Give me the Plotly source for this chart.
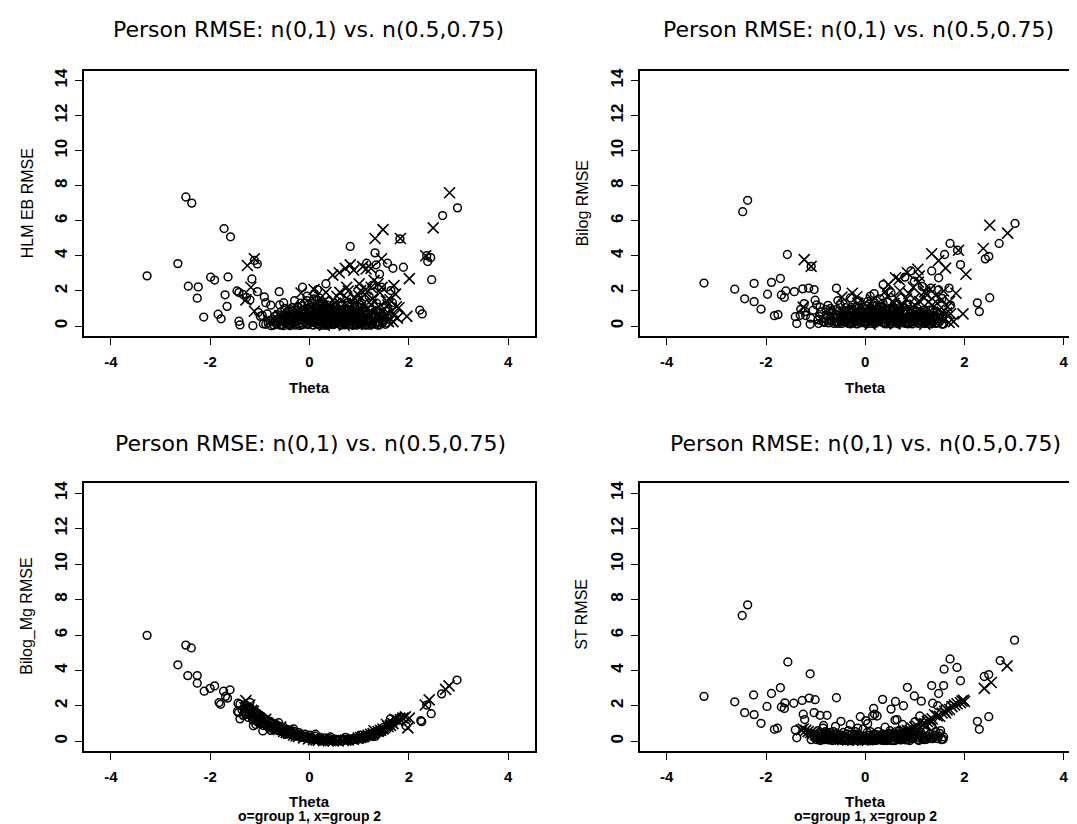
import plotly.graph_objects as go

W, H = 1077, 824

# ---------------- text ----------------
panel_title = "Person RMSE: n(0,1) vs. n(0.5,0.75)"
y_labels = ["HLM EB RMSE", "Bilog RMSE", "Bilog_Mg RMSE", "ST RMSE"]
x_label = "Theta"
caption = "o=group 1, x=group 2"
x_ticks = [-4, -2, 0, 2, 4]
x_tick_labels = ["-4", "-2", "0", "2", "4"]
y_ticks = [0, 2, 4, 6, 8, 10, 12, 14]
y_tick_labels = ["0", "2", "4", "6", "8", "10", "12", "14"]

# ---------------- data: (theta, RMSE) ----------------
# Panel 1: HLM EB RMSE
hlm_group1 = [
    (-3.27, 2.86), (-2.49, 7.36), (-2.37, 7.01), (-2.65, 3.56), (-2.44, 2.27), (-2.26, 1.59),
    (-2.24, 2.23), (-2.13, 0.51), (-1.99, 2.78), (-1.91, 2.62), (-1.84, 0.67), (-1.78, 0.41),
    (-1.72, 5.56), (-1.59, 5.09), (-1.70, 1.78), (-1.66, 1.12), (-1.64, 2.80), (-1.46, 2.00),
    (-1.42, 1.92), (-1.42, 0.27), (-1.40, 0.06), (-1.34, 1.80), (-1.27, 1.63), (-1.20, 1.49),
    (-1.16, 2.68), (-1.14, 0.02), (-1.11, 3.74), (-1.05, 3.54), (-1.05, 1.96), (-1.03, 0.78),
    (-0.99, 0.55), (-0.93, 0.12), (-0.91, 1.66), (-0.88, 1.33), (-0.85, 0.69), (-0.78, 1.19),
    (-0.61, 1.96), (-0.52, 1.33), (-0.50, 1.00), (-0.14, 2.21), (0.16, 2.08), (0.33, 2.41),
    (0.82, 4.54), (1.32, 4.17), (1.57, 3.58), (1.68, 3.29), (1.64, 2.02), (1.89, 3.35),
    (1.82, 4.97), (2.22, 0.90), (2.27, 0.69), (2.36, 4.01), (2.38, 3.68), (2.44, 3.90),
    (2.46, 2.64), (2.68, 6.30), (2.98, 6.74), (1.34, 3.49), (1.41, 2.96), (1.15, 3.58),
    (1.26, 2.31), (1.45, 2.21), (1.67, 1.33), (1.59, 0.84),
    (-0.88, 0.10), (-0.80, 0.32), (-0.72, 0.05), (-0.70, 0.55), (-0.63, 0.22), (-0.58, 0.80),
    (-0.55, 0.08), (-0.48, 0.40), (-0.44, 0.15), (-0.40, 0.95), (-0.36, 0.30), (-0.31, 0.62),
    (-0.28, 0.05), (-0.24, 1.10), (-0.21, 0.42), (-0.17, 0.18), (-0.13, 0.75), (-0.10, 1.30),
    (-0.07, 0.35), (-0.03, 0.08), (0.00, 0.55), (0.03, 1.05), (0.06, 0.25), (0.09, 1.55),
    (0.12, 0.70), (0.15, 0.12), (0.18, 0.95), (0.21, 0.40), (0.24, 1.25), (0.27, 0.05),
    (0.30, 0.60), (0.33, 0.22), (0.36, 0.85), (0.40, 0.45), (0.43, 0.10), (0.47, 0.70),
    (0.50, 0.30), (0.54, 1.10), (0.57, 0.15), (0.61, 0.55), (0.64, 0.90), (0.68, 0.28),
    (0.71, 0.06), (0.75, 0.65), (0.78, 1.35), (0.82, 0.38), (0.86, 0.12), (0.90, 0.80),
    (0.94, 0.50), (0.98, 0.20), (1.02, 1.05), (1.06, 0.35), (1.10, 0.08), (1.14, 0.62),
    (1.18, 0.28), (1.23, 0.90), (1.27, 0.15), (1.32, 0.48), (1.37, 0.06), (1.42, 0.72),
    (1.48, 0.25), (1.53, 0.10), (1.58, 0.45), (-0.95, 0.60), (-0.60, 1.20), (-0.30, 1.45),
    (0.10, 1.85), (0.20, 1.60), (-0.05, 1.70), (0.40, 1.40), (0.60, 1.60), (0.95, 1.50),
    (1.20, 1.70), (1.35, 1.30),
]
hlm_group1_core = [
    (-0.83, 0.18), (-0.77, 0.02), (-0.74, 0.38), (-0.67, 0.12), (-0.61, 0.45), (-0.57, 0.28),
    (-0.52, 0.02), (-0.49, 0.62), (-0.45, 0.24), (-0.41, 0.07), (-0.38, 0.48), (-0.34, 0.85),
    (-0.30, 0.18), (-0.27, 0.35), (-0.23, 0.70), (-0.19, 0.03), (-0.16, 0.52), (-0.12, 0.95),
    (-0.09, 0.22), (-0.06, 0.60), (-0.02, 1.20), (0.01, 0.32), (0.04, 0.78), (0.07, 0.05),
    (0.10, 0.48), (0.13, 1.10), (0.16, 0.28), (0.19, 0.62), (0.22, 0.85), (0.25, 0.18),
    (0.28, 1.05), (0.31, 0.40), (0.34, 0.04), (0.37, 0.58), (0.41, 0.92), (0.44, 0.30),
    (0.48, 0.08), (0.51, 0.52), (0.55, 0.78), (0.58, 0.38), (0.62, 0.18), (0.65, 1.15),
    (0.69, 0.48), (0.72, 0.30), (0.76, 0.85), (0.79, 0.10), (0.83, 0.60), (0.87, 0.35),
    (0.91, 1.10), (0.95, 0.05), (0.99, 0.70), (1.03, 0.45), (1.07, 0.15), (1.11, 0.85),
    (1.16, 0.42), (1.20, 0.05), (1.25, 0.60), (1.29, 0.32), (1.34, 0.85), (1.39, 0.20),
    (1.44, 0.40), (1.50, 0.55), (1.55, 0.18), (-0.05, 1.45), (0.05, 1.30), (0.15, 1.50),
    (0.25, 1.40), (-0.15, 1.15), (0.35, 1.20), (0.50, 1.30), (-0.35, 1.05), (0.70, 0.95),
    (0.85, 1.25), (1.05, 1.30),
    (-0.69, 0.30), (-0.65, 0.65), (-0.59, 0.05), (-0.54, 0.35), (-0.50, 0.18), (-0.46, 0.75),
    (-0.42, 0.55), (-0.39, 0.02), (-0.33, 0.45), (-0.29, 0.90), (-0.25, 0.25), (-0.20, 0.62),
    (-0.18, 1.30), (-0.14, 0.08), (-0.11, 0.48), (-0.08, 0.80), (-0.04, 0.15), (-0.01, 0.95),
    (0.02, 0.42), (0.05, 0.62), (0.08, 0.20), (0.11, 0.88), (0.14, 0.40), (0.17, 1.20),
    (0.20, 0.05), (0.23, 0.55), (0.26, 0.75), (0.29, 0.30), (0.32, 0.95), (0.35, 0.12),
    (0.38, 0.38), (0.42, 0.68), (0.45, 0.18), (0.49, 0.45), (0.52, 0.92), (0.56, 0.25),
    (0.59, 0.65), (0.63, 0.05), (0.66, 0.40), (0.70, 0.75), (0.73, 0.18), (0.77, 0.50),
    (0.80, 0.92), (0.84, 0.25), (0.88, 0.05), (0.92, 0.45), (0.96, 0.30), (1.00, 0.12),
    (1.04, 0.60), (1.08, 0.25), (1.13, 0.05), (1.17, 0.70), (1.21, 0.35), (1.26, 0.10),
    (1.30, 0.55), (1.35, 0.25), (1.40, 0.05), (1.46, 0.60),
    (-0.62, 0.40), (-0.56, 0.62), (-0.51, 0.28), (-0.47, 0.50), (-0.43, 0.85), (-0.37, 0.15),
    (-0.32, 0.70), (-0.26, 0.52), (-0.22, 0.12), (-0.15, 0.35), (-0.11, 0.65), (-0.04, 0.42),
    (0.00, 0.85), (0.06, 0.42), (0.09, 0.70), (0.13, 0.22), (0.18, 0.50), (0.23, 0.32),
    (0.27, 0.88), (0.32, 0.52), (0.36, 0.28), (0.40, 0.78), (0.46, 0.55), (0.50, 0.15),
    (0.53, 0.68), (0.60, 0.28), (0.64, 0.72), (0.67, 0.55), (0.74, 0.40), (0.78, 0.68),
    (0.81, 0.32), (0.86, 0.78), (0.89, 0.20), (0.93, 0.62), (0.97, 0.42), (1.01, 0.85),
    (1.05, 0.22), (1.09, 0.55), (1.15, 0.25), (1.19, 0.48), (1.24, 0.30), (1.28, 0.72),
    (1.33, 0.10), (1.38, 0.45),
]
hlm_group2 = [
    (-1.25, 3.45), (-1.11, 3.84), (-1.18, 2.21), (-1.28, 1.49), (-1.11, 0.84), (-0.17, 1.88),
    (0.09, 2.08), (0.33, 1.92), (0.47, 2.90), (0.60, 3.04), (0.72, 3.29), (0.82, 3.49),
    (0.89, 3.19), (1.07, 3.39), (1.14, 3.25), (1.24, 3.29), (1.32, 4.99), (1.48, 5.50),
    (1.45, 3.84), (1.83, 4.99), (2.01, 2.70), (1.96, 0.55), (1.80, 1.04), (1.68, 0.25),
    (2.34, 4.01), (2.49, 5.60), (2.82, 7.60), (1.73, 1.82), (1.55, 1.43), (1.38, 2.41),
    (1.24, 2.21), (1.03, 2.02), (0.75, 2.21), (0.61, 1.92), (0.96, 1.43), (1.17, 1.04),
    (1.41, 0.65), (1.59, 0.25), (0.61, 0.84), (0.40, 1.23),
    (0.05, 0.30), (0.12, 0.90), (0.20, 0.15), (0.28, 1.40), (0.35, 0.60), (0.42, 1.10),
    (0.48, 0.20), (0.55, 1.70), (0.60, 0.80), (0.66, 0.35), (0.72, 1.30), (0.78, 2.00),
    (0.84, 0.55), (0.90, 1.60), (0.96, 0.10), (1.00, 2.40), (1.05, 0.90), (1.12, 1.80),
    (1.18, 0.40), (1.25, 1.20), (1.30, 2.60), (1.36, 0.70), (1.42, 1.90), (1.50, 1.00),
    (1.56, 0.30), (1.62, 1.50), (1.70, 0.60), (1.75, 1.10), (-0.20, 0.50), (-0.40, 0.20),
    (-0.10, 1.00), (0.30, 0.05), (0.70, 0.05), (1.15, 0.10), (-0.80, 0.30), (-0.60, 0.60),
]
hlm_group2_core = [
    (0.02, 0.70), (0.18, 0.45), (0.25, 0.95), (0.38, 0.25), (0.45, 0.65), (0.52, 1.30),
    (0.58, 0.45), (0.63, 1.10), (0.69, 0.75), (0.75, 1.60), (0.81, 0.20), (0.87, 1.15),
    (0.93, 0.70), (0.99, 1.75), (1.04, 0.40), (1.09, 1.30), (1.14, 2.10), (1.20, 0.75),
    (1.27, 1.55), (1.33, 0.35), (1.40, 1.10), (1.46, 2.20), (1.52, 0.60), (1.58, 1.20),
    (1.65, 0.85), (1.70, 2.30), (1.77, 0.45), (-0.30, 0.80), (-0.50, 0.40), (0.15, 1.35),
]

# Panel 2: Bilog RMSE
bilog_group1 = [
    (-3.25, 2.45), (-2.47, 6.52), (-2.37, 7.17), (-2.63, 2.10), (-2.43, 1.55), (-2.24, 2.43),
    (-2.24, 1.39), (-2.10, 0.96), (-1.97, 1.81), (-1.89, 2.49), (-1.83, 0.59), (-1.76, 0.65),
    (-1.71, 2.71), (-1.69, 1.77), (-1.63, 1.63), (-1.60, 2.00), (-1.57, 4.08), (-1.43, 1.96),
    (-1.41, 0.53), (-1.38, 0.14), (-1.31, 0.61), (-1.26, 2.12), (-1.23, 1.28), (-1.21, 0.82),
    (-1.14, 2.16), (-1.11, 0.10), (-1.09, 3.40), (-1.03, 2.08), (-1.01, 1.47), (-0.94, 0.14),
    (-0.91, 1.08), (-0.75, 1.18), (-0.58, 2.16), (0.36, 2.36), (0.18, 1.85), (0.52, 1.90),
    (0.64, 1.28), (0.80, 2.79), (1.34, 3.14), (1.48, 2.75), (1.60, 4.08), (1.71, 4.71),
    (1.32, 2.16), (1.48, 2.06), (1.69, 2.16), (1.72, 1.18), (1.86, 4.32), (1.92, 3.50),
    (2.26, 1.32), (2.30, 0.82), (2.42, 3.83), (2.49, 3.97), (2.51, 1.61), (2.70, 4.71),
    (3.02, 5.85), (1.15, 2.26), (0.99, 2.55), (0.92, 3.14), (1.55, 1.57), (1.55, 0.10),
    (1.41, 0.59),
    (-0.95, 0.35), (-0.88, 0.80), (-0.82, 0.20), (-0.76, 0.55), (-0.70, 1.00), (-0.66, 0.30),
    (-0.60, 0.65), (-0.55, 0.15), (-0.50, 1.20), (-0.46, 0.45), (-0.41, 0.85), (-0.37, 0.25),
    (-0.32, 0.60), (-0.28, 1.05), (-0.24, 0.18), (-0.20, 0.40), (-0.16, 0.78), (-0.12, 1.40),
    (-0.08, 0.28), (-0.04, 0.55), (0.00, 0.95), (0.04, 0.20), (0.08, 1.25), (0.12, 0.45),
    (0.16, 0.70), (0.20, 0.15), (0.24, 1.00), (0.28, 0.38), (0.32, 0.62), (0.36, 1.30),
    (0.40, 0.22), (0.44, 0.85), (0.48, 0.48), (0.52, 0.12), (0.56, 1.10), (0.60, 0.35),
    (0.64, 0.70), (0.68, 0.20), (0.72, 0.95), (0.76, 0.50), (0.80, 0.15), (0.84, 1.20),
    (0.88, 0.40), (0.92, 0.75), (0.96, 0.22), (1.00, 0.58), (1.05, 1.00), (1.10, 0.30),
    (1.15, 0.68), (1.20, 0.14), (1.25, 0.45), (1.30, 0.90), (1.35, 0.25), (1.40, 0.60),
    (1.46, 0.18), (1.52, 0.40), (1.58, 0.12), (-0.30, 1.60), (0.10, 1.70), (-0.55, 1.45),
    (0.30, 1.55), (-1.05, 0.90), (-1.10, 0.45), (-0.98, 1.20), (-1.20, 0.60), (-1.30, 0.95),
]
bilog_group1_core = [
    (-0.92, 0.55), (-0.85, 0.25), (-0.79, 0.95), (-0.73, 0.38), (-0.68, 0.70), (-0.63, 0.15),
    (-0.58, 0.48), (-0.53, 0.85), (-0.48, 0.28), (-0.43, 0.62), (-0.39, 1.05), (-0.35, 0.40),
    (-0.30, 0.12), (-0.26, 0.75), (-0.22, 0.30), (-0.18, 1.10), (-0.14, 0.52), (-0.10, 0.18),
    (-0.06, 0.85), (-0.02, 0.38), (0.02, 1.15), (0.06, 0.60), (0.10, 0.30), (0.14, 0.95),
    (0.18, 0.48), (0.22, 0.22), (0.26, 0.80), (0.30, 1.10), (0.34, 0.35), (0.38, 0.70),
    (0.42, 0.12), (0.46, 0.58), (0.50, 1.00), (0.54, 0.30), (0.58, 0.78), (0.62, 0.18),
    (0.66, 0.50), (0.70, 1.05), (0.74, 0.30), (0.78, 0.75), (0.82, 0.45), (0.86, 0.12),
    (0.90, 0.95), (0.94, 0.55), (0.98, 0.30), (1.02, 0.80), (1.07, 0.15), (1.12, 0.50),
    (1.18, 0.90), (1.22, 0.30), (1.28, 0.65), (1.33, 0.12), (1.38, 0.42), (1.44, 0.80),
    (1.50, 0.25), (1.56, 0.55), (-0.15, 1.45), (0.05, 1.40), (0.20, 1.30), (-0.40, 1.30),
    (0.45, 1.35),
    (-0.80, 0.45), (-0.74, 0.18), (-0.71, 0.80), (-0.65, 0.52), (-0.61, 0.25), (-0.57, 0.95),
    (-0.52, 0.40), (-0.47, 0.15), (-0.44, 0.72), (-0.40, 0.32), (-0.36, 0.55), (-0.33, 0.90),
    (-0.29, 0.22), (-0.25, 0.45), (-0.21, 0.65), (-0.17, 0.12), (-0.13, 0.35), (-0.09, 0.62),
    (-0.05, 1.05), (-0.01, 0.25), (0.03, 0.48), (0.07, 0.82), (0.11, 0.15), (0.15, 0.40),
    (0.19, 0.65), (0.23, 1.15), (0.27, 0.28), (0.31, 0.48), (0.35, 0.85), (0.39, 0.18),
    (0.43, 0.40), (0.47, 0.70), (0.51, 0.22), (0.55, 0.52), (0.59, 0.95), (0.63, 0.32),
    (0.67, 0.12), (0.71, 0.62), (0.75, 0.40), (0.79, 0.88), (0.83, 0.22), (0.87, 0.55),
    (0.91, 0.35), (0.95, 0.12), (0.99, 0.65), (1.03, 0.42), (1.08, 0.22), (1.13, 0.75),
    (1.17, 0.40), (1.23, 0.18), (1.27, 0.55), (1.32, 0.30), (1.37, 0.75), (1.42, 0.15),
    (1.47, 0.42),
    (-0.78, 0.65), (-0.72, 0.30), (-0.67, 0.88), (-0.62, 0.45), (-0.56, 0.25), (-0.51, 0.70),
    (-0.45, 0.55), (-0.42, 0.25), (-0.38, 0.78), (-0.34, 0.15), (-0.31, 0.40), (-0.27, 0.95),
    (-0.23, 0.55), (-0.19, 0.28), (-0.15, 0.62), (-0.11, 0.90), (-0.07, 0.42), (-0.03, 0.72),
    (0.01, 0.15), (0.05, 0.58), (0.09, 0.95), (0.13, 0.32), (0.17, 0.55), (0.21, 0.85),
    (0.25, 0.45), (0.29, 0.68), (0.33, 0.22), (0.37, 0.55), (0.41, 0.95), (0.45, 0.32),
    (0.49, 0.62), (0.53, 0.85), (0.57, 0.40), (0.61, 0.62), (0.65, 0.28), (0.69, 0.82),
    (0.73, 0.52), (0.77, 0.25), (0.81, 0.68), (0.85, 0.38), (0.89, 0.18), (0.93, 0.45),
    (0.97, 0.85), (1.01, 0.25), (1.05, 0.55), (1.10, 0.82), (1.15, 0.22), (1.20, 0.60),
    (1.25, 0.35), (1.30, 0.15), (1.35, 0.50),
]
bilog_group2 = [
    (-1.23, 3.79), (-1.09, 3.40), (-1.25, 1.08), (-0.47, 1.65), (-0.26, 1.87), (-0.17, 1.67),
    (0.40, 1.96), (0.47, 2.36), (0.61, 2.75), (0.68, 2.65), (0.85, 3.04), (1.06, 3.24),
    (1.09, 2.85), (1.34, 4.12), (1.48, 3.73), (1.62, 3.30), (1.83, 1.87), (1.88, 4.32),
    (2.03, 2.95), (1.97, 0.69), (1.69, 0.20), (1.55, 0.79), (2.38, 4.42), (2.51, 5.75),
    (2.87, 5.30), (0.99, 1.57), (1.20, 1.96), (0.92, 0.98), (1.27, 1.37),
    (-0.45, 0.30), (-0.35, 0.90), (-0.25, 0.50), (-0.15, 1.30), (-0.05, 0.20), (0.05, 0.80),
    (0.15, 1.50), (0.22, 0.40), (0.30, 1.10), (0.38, 0.65), (0.45, 1.70), (0.52, 0.25),
    (0.58, 1.30), (0.65, 0.85), (0.70, 2.00), (0.77, 0.45), (0.83, 1.55), (0.90, 0.95),
    (0.97, 2.20), (1.03, 0.30), (1.10, 1.40), (1.16, 0.75), (1.22, 1.85), (1.28, 0.50),
    (1.35, 1.20), (1.42, 1.75), (1.48, 0.90), (1.55, 1.50), (1.60, 0.40), (1.66, 1.10),
    (1.72, 0.70), (1.78, 0.25), (-0.70, 0.60), (-0.90, 0.40), (0.10, 0.10), (0.60, 0.12),
    (1.20, 0.10),
]
bilog_group2_core = [
    (-0.40, 0.60), (-0.20, 0.85), (0.00, 0.45), (0.18, 1.05), (0.26, 0.20), (0.35, 1.40),
    (0.42, 0.85), (0.55, 0.55), (0.62, 1.60), (0.74, 1.15), (0.80, 0.30), (0.88, 1.85),
    (0.94, 0.60), (1.00, 1.20), (1.07, 2.50), (1.13, 0.85), (1.19, 1.60), (1.25, 0.30),
    (1.31, 2.10), (1.38, 0.70), (1.45, 1.30), (1.52, 0.45), (1.58, 2.00), (1.64, 0.75),
    (1.70, 1.40),
]

# Panel 3: Bilog_Mg RMSE
bilogmg_group1 = [
    (-3.27, 5.98), (-2.65, 4.32), (-2.49, 5.43), (-2.38, 5.27), (-2.45, 3.71), (-2.26, 3.71),
    (-2.26, 3.28), (-2.12, 2.83), (-2.00, 2.99), (-1.91, 3.13), (-1.82, 2.19), (-1.79, 2.09),
    (-1.73, 2.83), (-1.69, 2.54), (-1.65, 2.44), (-1.60, 2.91), (-1.44, 2.15), (-1.43, 1.62),
    (-1.40, 1.27), (-1.32, 1.86), (-1.13, 0.88), (-0.94, 0.59), (1.63, 1.27), (1.74, 1.17),
    (1.84, 1.37), (1.94, 0.88), (2.24, 1.17), (2.26, 1.11), (2.36, 2.05), (2.45, 1.56),
    (2.66, 2.68), (2.97, 3.46),
    (-1.36, 1.78), (-1.29, 2.07), (-1.26, 1.52), (-1.19, 1.87), (-1.16, 1.38), (-1.09, 1.66),
    (-1.06, 1.18), (-0.99, 1.47), (-0.96, 1.03), (-0.91, 1.27), (-0.86, 0.88), (-0.79, 1.12),
    (-0.76, 0.78), (-0.69, 0.99), (-0.66, 0.69), (-0.61, 0.86), (-0.54, 0.58), (-0.51, 0.77),
    (-0.46, 0.51), (-0.39, 0.65), (-0.36, 0.44), (-0.31, 0.56), (-0.24, 0.37), (-0.21, 0.49),
    (-0.16, 0.31), (-0.09, 0.41), (-0.06, 0.25), (0.01, 0.35), (0.04, 0.19), (0.11, 0.29),
    (0.14, 0.14), (0.21, 0.23), (0.24, 0.11), (0.31, 0.19), (0.34, 0.07), (0.41, 0.15),
    (0.44, 0.05), (0.51, 0.12), (0.54, 0.04), (0.61, 0.10), (0.66, 0.03), (0.69, 0.11),
    (0.76, 0.05), (0.79, 0.13), (0.86, 0.06), (0.89, 0.16), (0.96, 0.09), (0.99, 0.21),
    (1.06, 0.13), (1.09, 0.29), (1.16, 0.21), (1.19, 0.39), (1.26, 0.29), (1.29, 0.51),
    (1.36, 0.41), (1.39, 0.63), (1.46, 0.54), (1.49, 0.79), (1.56, 0.67), (1.59, 0.93),
    (1.69, 1.04), (1.77, 1.22), (-1.08, 0.95), (-0.78, 0.62), (-0.48, 0.40), (-0.18, 0.22),
    (0.12, 0.40), (0.42, 0.25), (0.72, 0.22), (1.02, 0.35), (1.32, 0.28), (-0.95, 1.40),
    (-0.62, 1.05), (-0.32, 0.70),
]
bilogmg_group1_core = [
    (-1.33, 1.45), (-1.27, 1.80), (-1.23, 1.35), (-1.18, 1.62), (-1.14, 1.20), (-1.08, 1.50),
    (-1.03, 1.05), (-0.98, 1.30), (-0.93, 0.90), (-0.88, 1.15), (-0.83, 0.80), (-0.78, 1.00),
    (-0.73, 0.70), (-0.68, 0.88), (-0.63, 0.60), (-0.58, 0.72), (-0.53, 0.50), (-0.48, 0.62),
    (-0.43, 0.42), (-0.38, 0.52), (-0.33, 0.34), (-0.28, 0.45), (-0.23, 0.28), (-0.18, 0.36),
    (-0.13, 0.22), (-0.08, 0.30), (-0.03, 0.17), (0.02, 0.24), (0.07, 0.12), (0.17, 0.09),
    (0.27, 0.06), (0.37, 0.10), (0.47, 0.03), (0.57, 0.08), (0.67, 0.06), (0.77, 0.09),
    (0.87, 0.12), (0.97, 0.15), (1.07, 0.22), (1.17, 0.30), (1.27, 0.40), (1.37, 0.52),
    (1.47, 0.64), (1.57, 0.80), (1.65, 0.98), (1.72, 1.12), (1.80, 1.30), (-1.40, 2.10),
    (-1.45, 1.70), (-1.20, 2.20),
    (-1.31, 1.65), (-1.24, 1.95), (-1.21, 1.50), (-1.17, 1.80), (-1.11, 1.35), (-1.05, 1.60),
    (-1.01, 1.15), (-0.97, 1.38), (-0.92, 1.00), (-0.87, 1.22), (-0.82, 0.88), (-0.77, 1.05),
    (-0.72, 0.75), (-0.67, 0.92), (-0.62, 0.66), (-0.57, 0.80), (-0.52, 0.55), (-0.47, 0.68),
    (-0.42, 0.47), (-0.37, 0.58), (-0.27, 0.40), (-0.17, 0.28), (-0.07, 0.20), (0.03, 0.14),
    (0.22, 0.05), (0.52, 0.06), (0.82, 0.10), (1.12, 0.25), (1.22, 0.33), (1.42, 0.58),
    (1.52, 0.70), (1.62, 0.86),
]
bilogmg_group2 = [
    (-1.28, 2.30), (-1.20, 2.05), (-1.13, 1.70), (1.98, 0.76), (2.01, 1.31), (2.33, 2.05),
    (2.41, 2.34), (2.74, 2.93), (2.81, 3.13),
    (-1.30, 1.90), (-1.22, 1.70), (-1.12, 1.50), (-1.02, 1.30), (-0.92, 1.12), (-0.82, 0.95),
    (-0.72, 0.82), (-0.62, 0.68), (-0.52, 0.56), (-0.42, 0.46), (-0.32, 0.36), (-0.22, 0.28),
    (-0.12, 0.20), (-0.02, 0.14), (0.08, 0.10), (0.18, 0.06), (0.28, 0.04), (0.38, 0.03),
    (0.48, 0.02), (0.58, 0.03), (0.68, 0.05), (0.78, 0.08), (0.88, 0.12), (0.98, 0.18),
    (1.08, 0.26), (1.18, 0.34), (1.28, 0.44), (1.38, 0.56), (1.48, 0.70), (1.58, 0.84),
    (1.68, 1.00), (1.78, 1.16), (1.88, 1.32), (1.30, 0.60), (1.55, 0.95), (1.72, 1.25),
    (-0.58, 0.80), (-0.88, 1.25),
]
bilogmg_group2_core = [
    (-1.26, 1.60), (-1.16, 1.75), (-1.06, 1.40), (-0.97, 1.20), (-0.87, 1.05), (-0.77, 0.88),
    (-0.67, 0.75), (-0.47, 0.50), (-0.27, 0.30), (0.13, 0.08), (0.43, 0.05), (0.73, 0.07),
    (1.03, 0.22), (1.23, 0.40), (1.43, 0.62), (1.63, 0.90), (1.83, 1.22), (1.93, 1.38),
]

# Panel 4: ST RMSE
st_group1 = [
    (-3.25, 2.54), (-2.63, 2.23), (-2.48, 7.10), (-2.37, 7.70), (-2.43, 1.62), (-2.25, 2.62),
    (-2.24, 1.51), (-2.10, 1.02), (-1.98, 1.97), (-1.89, 2.70), (-1.83, 0.68), (-1.77, 0.74),
    (-1.71, 3.03), (-1.69, 1.94), (-1.63, 1.86), (-1.62, 2.17), (-1.56, 4.48), (-1.44, 2.15),
    (-1.41, 0.65), (-1.38, 0.20), (-1.27, 2.31), (-1.25, 1.53), (-1.22, 1.23), (-1.13, 2.44),
    (-1.11, 3.81), (-1.01, 2.35), (-1.03, 1.62), (-0.91, 1.47), (-0.77, 1.47), (-0.84, 0.90),
    (-1.09, 0.10), (-0.91, 0.06), (-0.58, 2.46), (-0.49, 1.13), (-0.10, 1.39), (0.01, 1.17),
    (0.17, 1.86), (0.19, 1.53), (0.24, 1.43), (0.35, 2.37), (0.52, 1.82), (0.61, 2.25),
    (0.64, 1.23), (0.77, 2.01), (0.85, 3.05), (0.99, 2.56), (1.10, 1.43), (1.13, 2.27),
    (1.34, 3.15), (1.36, 2.15), (1.48, 2.70), (1.58, 3.15), (1.59, 4.07), (1.71, 4.65),
    (1.46, 2.01), (1.71, 2.01), (1.85, 4.17), (1.92, 3.42), (2.26, 1.13), (2.30, 0.68),
    (2.40, 3.66), (2.49, 3.77), (2.49, 1.39), (2.72, 4.56), (3.01, 5.71), (1.15, 0.35),
    (1.57, 0.12), (1.32, 0.16),
    (-1.10, 0.45), (-1.02, 0.20), (-0.95, 0.60), (-0.88, 0.30), (-0.82, 0.10), (-0.76, 0.45),
    (-0.70, 0.22), (-0.64, 0.55), (-0.58, 0.12), (-0.52, 0.35), (-0.46, 0.05), (-0.40, 0.28),
    (-0.34, 0.60), (-0.28, 0.15), (-0.22, 0.40), (-0.16, 0.05), (-0.10, 0.25), (-0.04, 0.70),
    (0.02, 0.10), (0.08, 0.35), (0.14, 0.04), (0.20, 0.22), (0.26, 0.55), (0.32, 0.08),
    (0.38, 0.30), (0.44, 0.12), (0.50, 0.45), (0.56, 0.05), (0.62, 0.25), (0.68, 0.60),
    (0.74, 0.15), (0.80, 0.38), (0.86, 0.10), (0.92, 0.50), (0.98, 0.20), (1.04, 0.75),
    (1.10, 0.30), (1.16, 0.12), (1.22, 0.55), (1.28, 0.20), (1.34, 0.85), (1.40, 0.35),
    (1.46, 0.15), (1.52, 0.60), (1.58, 0.25), (-0.60, 0.85), (-0.30, 0.95), (0.05, 1.00),
    (0.40, 0.80), (0.75, 0.95), (1.00, 1.10), (-0.85, 0.75), (0.60, 1.20), (0.15, 1.45),
    (-0.15, 0.75),
]
st_group1_core = [
    (-0.98, 0.10), (-0.92, 0.40), (-0.86, 0.18), (-0.80, 0.55), (-0.74, 0.08), (-0.68, 0.32),
    (-0.62, 0.15), (-0.56, 0.42), (-0.50, 0.20), (-0.44, 0.50), (-0.38, 0.10), (-0.32, 0.32),
    (-0.26, 0.04), (-0.20, 0.18), (-0.14, 0.42), (-0.08, 0.10), (-0.02, 0.30), (0.04, 0.50),
    (0.10, 0.18), (0.16, 0.38), (0.22, 0.06), (0.28, 0.25), (0.34, 0.42), (0.40, 0.10),
    (0.46, 0.28), (0.52, 0.05), (0.58, 0.35), (0.64, 0.12), (0.70, 0.40), (0.76, 0.28),
    (0.82, 0.08), (0.88, 0.30), (0.94, 0.15), (1.00, 0.42), (1.06, 0.10), (1.12, 0.50),
    (1.18, 0.25), (1.24, 0.12), (1.30, 0.40), (1.36, 0.15), (1.42, 0.55), (1.48, 0.30),
    (1.54, 0.10),
    (-0.95, 0.22), (-0.90, 0.05), (-0.84, 0.42), (-0.78, 0.15), (-0.72, 0.38), (-0.66, 0.05),
    (-0.60, 0.28), (-0.54, 0.08), (-0.48, 0.35), (-0.42, 0.18), (-0.36, 0.42), (-0.30, 0.05),
    (-0.24, 0.28), (-0.18, 0.12), (-0.12, 0.35), (-0.06, 0.05), (0.00, 0.20), (0.06, 0.05),
    (0.12, 0.28), (0.18, 0.10), (0.24, 0.35), (0.30, 0.18), (0.36, 0.05), (0.42, 0.38),
    (0.48, 0.15), (0.54, 0.25), (0.60, 0.05), (0.66, 0.20), (0.72, 0.08), (0.78, 0.45),
    (0.84, 0.22), (0.90, 0.05), (0.96, 0.32), (1.02, 0.18), (1.08, 0.05), (1.14, 0.35),
    (1.20, 0.10),
    (-0.88, 0.12), (-0.76, 0.28), (-0.64, 0.40), (-0.52, 0.25), (-0.40, 0.05), (-0.28, 0.38),
    (-0.16, 0.22), (-0.04, 0.12), (0.08, 0.22), (0.20, 0.40), (0.32, 0.28), (0.44, 0.05),
    (0.56, 0.40), (0.68, 0.10), (0.80, 0.20), (0.92, 0.28), (1.04, 0.32), (1.16, 0.22),
    (1.26, 0.30), (1.38, 0.25), (1.50, 0.45), (-0.70, 0.50), (0.10, 0.55), (0.50, 0.60),
    (-0.20, 0.55),
]
st_group2 = [
    (-1.29, 0.65), (-1.25, 0.70), (-1.15, 0.55), (-1.05, 0.45), (-0.95, 0.36), (-0.85, 0.28),
    (-0.75, 0.22), (-0.65, 0.17), (-0.55, 0.13), (-0.45, 0.10), (-0.35, 0.08), (-0.25, 0.07),
    (-0.15, 0.07), (-0.05, 0.08), (0.05, 0.10), (0.15, 0.13), (0.25, 0.17), (0.35, 0.22),
    (0.45, 0.28), (0.55, 0.35), (0.65, 0.43), (0.75, 0.52), (0.85, 0.62), (0.95, 0.73),
    (1.05, 0.85), (1.15, 0.98), (1.25, 1.12), (1.35, 1.27), (1.45, 1.43), (1.55, 1.60),
    (1.65, 1.78), (1.75, 1.96), (1.85, 2.12), (1.95, 2.28), (2.00, 2.25), (1.92, 2.18),
    (1.70, 1.80), (1.50, 1.42), (1.20, 1.00), (0.90, 0.60), (0.60, 0.30), (0.30, 0.12),
    (1.40, 1.50), (1.10, 1.05), (2.40, 2.99), (2.54, 3.32), (2.86, 4.26),
]
st_group2_core = [
    (-1.20, 0.62), (-1.10, 0.50), (-1.00, 0.40), (-0.90, 0.32), (-0.80, 0.25), (-0.70, 0.20),
    (-0.60, 0.15), (-0.50, 0.12), (0.00, 0.09), (0.10, 0.12), (0.20, 0.15), (0.40, 0.25),
    (0.50, 0.32), (0.70, 0.48), (0.80, 0.57), (1.00, 0.80), (1.30, 1.20), (1.60, 1.70),
    (1.80, 2.05), (1.98, 2.32), (1.62, 1.60), (1.33, 1.10),
]

panels = [
    (hlm_group1 + hlm_group1_core, hlm_group2 + hlm_group2_core),
    (bilog_group1 + bilog_group1_core, bilog_group2 + bilog_group2_core),
    (bilogmg_group1 + bilogmg_group1_core, bilogmg_group2 + bilogmg_group2_core),
    (st_group1 + st_group1_core, st_group2 + st_group2_core),
]

# ---------------- layout geometry (pixels) ----------------
def px_x(p):
    return p / W

def px_y(p):
    return 1 - p / H

left_dom = [px_x(76), px_x(527)]
right_dom = [px_x(632), 1.0]
top_dom = [px_y(326), px_y(60)]
bot_dom = [px_y(743), px_y(474)]
x_range_left = [-4.54, 4.54]
x_range_right = [-4.54, 4.43]
y_range = [-0.56, 14.56]

fig = go.Figure()
axis_ids = ["", "2", "3", "4"]
font_family = "Liberation Sans, Arial, Helvetica, sans-serif"

for i, (g1, g2) in enumerate(panels):
    xa = "x" + axis_ids[i]
    ya = "y" + axis_ids[i]
    fig.add_trace(go.Scatter(
        x=[p[0] for p in g1], y=[p[1] for p in g1], mode="markers",
        marker=dict(symbol="circle-open", size=7.8, color="black", line=dict(width=1.5, color="black")),
        xaxis=xa, yaxis=ya, showlegend=False, hoverinfo="skip"))
    fig.add_trace(go.Scatter(
        x=[p[0] for p in g2], y=[p[1] for p in g2], mode="markers",
        marker=dict(symbol="x-thin-open", size=11, color="black", line=dict(width=1.6, color="black")),
        xaxis=xa, yaxis=ya, showlegend=False, hoverinfo="skip"))

xtick_font = dict(family=font_family, size=15, color="black", weight="bold")
ytick_font = dict(family=font_family, size=17, color="black", weight="bold")

for i in range(4):
    is_left = i in (0, 2)
    is_top = i in (0, 1)
    xdom = left_dom if is_left else right_dom
    ydom = top_dom if is_top else bot_dom
    xkey = "xaxis" + axis_ids[i]
    ykey = "yaxis" + axis_ids[i]
    fig.layout[xkey] = dict(
        domain=xdom, range=x_range_left if is_left else x_range_right,
        anchor="y" + axis_ids[i], tickmode="array", tickvals=x_ticks, ticktext=x_tick_labels,
        showgrid=False, zeroline=False, showline=True, linecolor="black", linewidth=1.6,
        mirror=True, ticks="outside", ticklen=7, tickwidth=1.2, tickcolor="black",
        tickfont=xtick_font, ticklabelstandoff=4, fixedrange=True)
    fig.layout[ykey] = dict(
        domain=ydom, range=y_range, anchor="x" + axis_ids[i], tickmode="array",
        tickvals=y_ticks, ticktext=y_tick_labels, tickangle=-90,
        showgrid=False, zeroline=False, showline=True, linecolor="black", linewidth=1.6,
        mirror=is_left, ticks="outside", ticklen=7, tickwidth=1.2, tickcolor="black",
        tickfont=ytick_font, ticklabelstandoff=1, fixedrange=True)

annotations = []
title_pos = [(300, 19), (850, 19), (302, 434), (857, 434)]
for (tx, ty) in title_pos:
    annotations.append(dict(text=panel_title, x=px_x(tx), y=px_y(ty), xref="paper", yref="paper",
                            xanchor="center", yanchor="middle", showarrow=False,
                            font=dict(family="DejaVu Sans, Liberation Sans, Arial", size=22, color="black")))
ylab_pos = [(19, 193), (574, 193), (19, 608), (574, 606)]
for lab, (lx, ly) in zip(y_labels, ylab_pos):
    annotations.append(dict(text=lab, x=px_x(lx), y=px_y(ly), xref="paper", yref="paper",
                            xanchor="center", yanchor="middle", textangle=-90, showarrow=False,
                            font=dict(family=font_family, size=16, color="black")))
theta_pos = [(301, 378), (857, 378), (301, 793), (857, 793)]
for (tx, ty) in theta_pos:
    annotations.append(dict(text=x_label, x=px_x(tx), y=px_y(ty), xref="paper", yref="paper",
                            xanchor="center", yanchor="middle", showarrow=False,
                            font=dict(family=font_family, size=15, color="black", weight="bold")))
for tx in (301, 857):
    annotations.append(dict(text=caption, x=px_x(tx), y=px_y(808), xref="paper", yref="paper",
                            xanchor="center", yanchor="middle", showarrow=False,
                            font=dict(family=font_family, size=14, color="black", weight="bold")))

fig.update_layout(
    width=W, height=H, margin=dict(l=0, r=0, t=0, b=0),
    paper_bgcolor="white", plot_bgcolor="white",
    annotations=annotations, hovermode=False, showlegend=False)

fig.write_html("out.html", config={"displayModeBar": False})
